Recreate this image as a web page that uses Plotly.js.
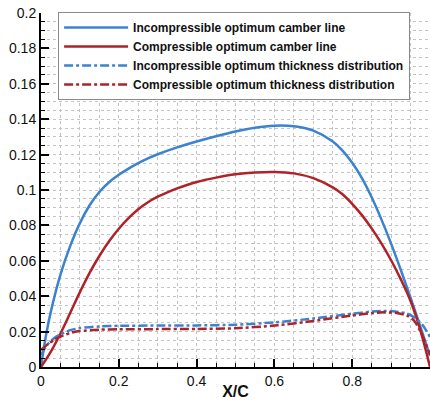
<!DOCTYPE html>
<html>
<head>
<meta charset="utf-8">
<script src="https://cdn.plot.ly/plotly-3.0.1.min.js"></script>
<style>html,body{margin:0;padding:0;background:#fff;}#chart{width:430px;height:400px;}</style>
</head>
<body>
<div id="chart"></div>
<script>
// Incompressible optimum camber line
const incCamberX = [0, 0.0125, 0.025, 0.05, 0.075, 0.1, 0.125, 0.15, 0.175, 0.2, 0.225, 0.25, 0.275, 0.3, 0.35, 0.4, 0.45, 0.5, 0.55, 0.6, 0.65, 0.7, 0.75, 0.775, 0.8, 0.825, 0.85, 0.875, 0.9, 0.925, 0.95, 0.975, 1.0];
const incCamberY = [0, 0.0175, 0.031, 0.0522, 0.0683, 0.0813, 0.0914, 0.0989, 0.1044, 0.1086, 0.1121, 0.1152, 0.1179, 0.1202, 0.1241, 0.1274, 0.1304, 0.1331, 0.1352, 0.1363, 0.1360, 0.1335, 0.1274, 0.1223, 0.1154, 0.1067, 0.0959, 0.0834, 0.0697, 0.0548, 0.0392, 0.0230, 0.0062];
// Compressible optimum camber line
const compCamberX = [0, 0.025, 0.05, 0.075, 0.1, 0.125, 0.15, 0.175, 0.2, 0.225, 0.25, 0.275, 0.3, 0.325, 0.35, 0.4, 0.45, 0.5, 0.55, 0.6, 0.65, 0.7, 0.75, 0.775, 0.8, 0.825, 0.85, 0.875, 0.9, 0.925, 0.95, 0.975, 1.0];
const compCamberY = [0, 0.0085, 0.0189, 0.0305, 0.0423, 0.0532, 0.0627, 0.0710, 0.0781, 0.0841, 0.0891, 0.0931, 0.0962, 0.0987, 0.1009, 0.1045, 0.1070, 0.1089, 0.1099, 0.1102, 0.1094, 0.1067, 0.1015, 0.0976, 0.0922, 0.0858, 0.0783, 0.0698, 0.0603, 0.0495, 0.0373, 0.0210, 0.0];
// Incompressible optimum thickness distribution
const incThickX = [0, 0.01, 0.02, 0.035, 0.05, 0.075, 0.1, 0.15, 0.2, 0.3, 0.4, 0.5, 0.6, 0.7, 0.8, 0.85, 0.88, 0.91, 0.94, 0.96, 0.98, 1.0];
const incThickY = [0.0068, 0.0105, 0.0135, 0.0165, 0.0185, 0.0208, 0.022, 0.0229, 0.0233, 0.0234, 0.0235, 0.0239, 0.0252, 0.0274, 0.0301, 0.0313, 0.0317, 0.0314, 0.0302, 0.028, 0.024, 0.017];
// Compressible optimum thickness distribution
const compThickX = [0, 0.01, 0.02, 0.035, 0.05, 0.075, 0.1, 0.15, 0.2, 0.3, 0.4, 0.5, 0.6, 0.7, 0.8, 0.85, 0.88, 0.91, 0.94, 0.96, 0.98, 1.0];
const compThickY = [0.0096, 0.0115, 0.0133, 0.0155, 0.0172, 0.0192, 0.0203, 0.0211, 0.0213, 0.0214, 0.0215, 0.0219, 0.0234, 0.026, 0.0291, 0.0304, 0.0309, 0.0306, 0.0292, 0.026, 0.018, 0.007];

const seriesNames = ["Incompressible optimum camber line", "Compressible optimum camber line", "Incompressible optimum thickness distribution", "Compressible optimum thickness distribution"];

const xTickVals = [0, 0.2, 0.4, 0.6, 0.8, 1];
const xTickText = ["0", "0.2", "0.4", "0.6", "0.8", "1"];
const yTickVals = [0, 0.02, 0.04, 0.06, 0.08, 0.1, 0.12, 0.14, 0.16, 0.18, 0.2];
const yTickText = ["0", "0.02", "0.04", "0.06", "0.08", "0.1", "0.12", "0.14", "0.16", "0.18", "0.2"];

const BLUE = "#3b82cf";
const RED = "#ae2228";
const DASHDOT = "9px,3px,3px,3px";

const traces = [
  {x: incCamberX, y: incCamberY, name: seriesNames[0], mode: "lines", line: {color: BLUE, width: 2.5, shape: "spline", smoothing: 1}},
  {x: compCamberX, y: compCamberY, name: seriesNames[1], mode: "lines", line: {color: RED, width: 2.5, shape: "spline", smoothing: 1}},
  {x: incThickX, y: incThickY, name: seriesNames[2], mode: "lines", line: {color: BLUE, width: 2.5, dash: DASHDOT, shape: "spline", smoothing: 0.6}},
  {x: compThickX, y: compThickY, name: seriesNames[3], mode: "lines", line: {color: RED, width: 2.5, dash: DASHDOT, shape: "spline", smoothing: 0.6}}
];

const FONT = "Liberation Sans, Arial, Helvetica, sans-serif";
const GRID = "#c4c4c4";

const layout = {
  width: 430, height: 400,
  margin: {l: 41, r: 0, t: 13, b: 33},
  paper_bgcolor: "#fff", plot_bgcolor: "#fff",
  font: {family: FONT, size: 14, color: "#111"},
  showlegend: true,
  legend: {
    x: 0.044, y: 1.003, xanchor: "left", yanchor: "top",
    bgcolor: "#fff", bordercolor: "#8a8a8a", borderwidth: 1,
    font: {family: FONT, size: 12, color: "#111", weight: "bold"},
    itemwidth: 64, tracegroupgap: 0
  },
  xaxis: {
    range: [0, 1], tickvals: xTickVals, ticktext: xTickText,
    showline: true, linecolor: "#000", linewidth: 2,
    ticks: "inside", ticklen: 8, tickwidth: 2, tickcolor: "#000",
    showgrid: true, gridcolor: GRID, griddash: "dot", gridwidth: 1,
    zeroline: false,
    minor: {dtick: 0.05, ticks: "inside", ticklen: 4, tickwidth: 1, tickcolor: "#000", showgrid: true, gridcolor: GRID, griddash: "dot", gridwidth: 1},
    title: {text: "X/C", font: {family: FONT, size: 16, weight: "bold", color: "#111"}, standoff: 4}
  },
  yaxis: {
    range: [0, 0.2], tickvals: yTickVals, ticktext: yTickText,
    showline: true, linecolor: "#000", linewidth: 2,
    ticks: "inside", ticklen: 8, tickwidth: 2, tickcolor: "#000",
    showgrid: true, gridcolor: GRID, griddash: "dot", gridwidth: 1,
    zeroline: false,
    minor: {dtick: 0.005, ticks: "inside", ticklen: 4, tickwidth: 1, tickcolor: "#000", showgrid: true, gridcolor: GRID, griddash: "dot", gridwidth: 1}
  }
};

Plotly.newPlot("chart", traces, layout, {displayModeBar: false, staticPlot: true});
</script>
</body>
</html>
